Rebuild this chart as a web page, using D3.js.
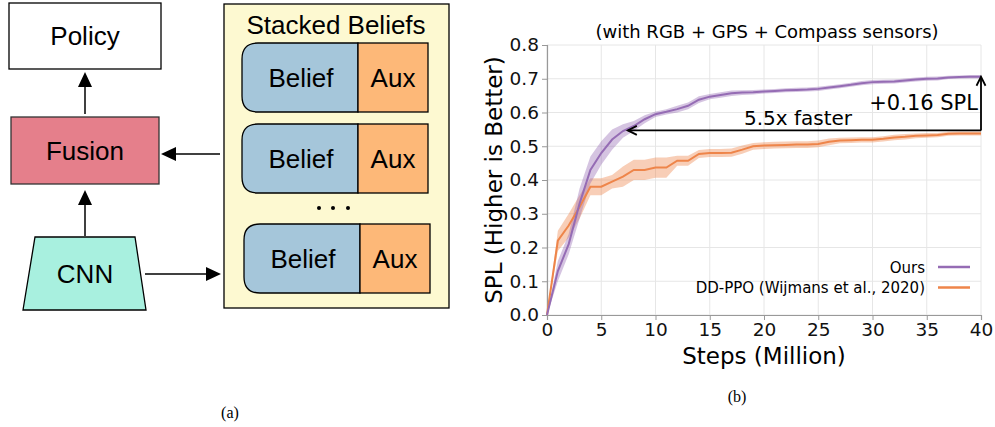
<!DOCTYPE html>
<html><head><meta charset="utf-8">
<script src="https://cdn.jsdelivr.net/npm/d3@7"></script>
<style>body{margin:0;background:#fff}svg{display:block}</style>
</head><body>
<svg id="c" width="995" height="427"></svg>
<script>
// ---- data ----
const steps = d3.range(0, 41);
const oursMean = [0,0.13,0.21,0.33,0.43,0.48,0.52,0.545,0.56,0.58,0.595,0.602,0.61,0.62,0.638,0.647,0.652,0.657,0.659,0.66,0.662,0.664,0.666,0.667,0.668,0.670,0.674,0.678,0.682,0.687,0.69,0.691,0.692,0.695,0.698,0.70,0.701,0.704,0.705,0.706,0.706];
const oursSpread = [0,0.03,0.03,0.045,0.04,0.035,0.03,0.02,0.015,0.012,0.008,0.008,0.01,0.01,0.01,0.008,0.008,0.008,0.007,0.007,0.006,0.006,0.006,0.006,0.006,0.006,0.006,0.006,0.006,0.006,0.006,0.006,0.006,0.006,0.006,0.006,0.006,0.005,0.005,0.005,0.005];
const ddppoMean = [0,0.22,0.265,0.32,0.38,0.38,0.395,0.41,0.43,0.43,0.437,0.437,0.457,0.457,0.477,0.48,0.48,0.481,0.49,0.50,0.502,0.503,0.504,0.505,0.505,0.507,0.513,0.517,0.518,0.519,0.519,0.522,0.526,0.528,0.531,0.532,0.533,0.537,0.538,0.538,0.538];
const ddppoSpread = [0,0.03,0.035,0.035,0.025,0.025,0.02,0.03,0.03,0.03,0.03,0.03,0.015,0.015,0.012,0.012,0.012,0.012,0.012,0.01,0.01,0.01,0.01,0.01,0.01,0.01,0.01,0.008,0.008,0.008,0.008,0.008,0.008,0.008,0.007,0.007,0.006,0.006,0.006,0.006,0.006];
const xTicks = [0,5,10,15,20,25,30,35,40];
const yTicks = [0,0.1,0.2,0.3,0.4,0.5,0.6,0.7,0.8];
const seriesNames = ["Ours","DD-PPO (Wijmans et al., 2020)"];
const seriesColors = ["#956CB4","#EE854A"];
const beliefRows = ["Belief","Belief","Belief"];

const svg = d3.select("#c");
const sans = "'Liberation Sans', Arial, sans-serif";
const dv = "'DejaVu Sans', sans-serif";

// ---- diagram (a) ----
const g = svg.append("g");
function arrowHead(x, y, dir) {
  let pts;
  if (dir === 'up') pts = [[x,y],[x-7,y+15],[x+7,y+15]];
  if (dir === 'left') pts = [[x,y],[x+15,y-7],[x+15,y+7]];
  if (dir === 'right') pts = [[x,y],[x-15,y-7],[x-15,y+7]];
  g.append("path").attr("d", d3.line()(pts) + "Z").attr("fill", "#000");
}
const fs = 26;
g.append("rect").attr("x",9).attr("y",3).attr("width",152).attr("height",66).attr("fill","#fff").attr("stroke","#000").attr("stroke-width",1.3);
g.append("text").attr("x",85).attr("y",45).attr("text-anchor","middle").attr("font-family",sans).attr("font-size",fs).text("Policy");
g.append("line").attr("x1",85).attr("x2",85).attr("y1",114).attr("y2",80).attr("stroke","#000").attr("stroke-width",1.5);
arrowHead(85,72,'up');
g.append("rect").attr("x",11).attr("y",117).attr("width",148).attr("height",67).attr("fill","#E57F8B").attr("stroke","#333").attr("stroke-width",1.3);
g.append("text").attr("x",85).attr("y",160).attr("text-anchor","middle").attr("font-family",sans).attr("font-size",fs).text("Fusion");
g.append("line").attr("x1",85).attr("x2",85).attr("y1",236).attr("y2",198).attr("stroke","#000").attr("stroke-width",1.5);
arrowHead(85,190,'up');
g.append("path").attr("d","M35,237 L135,237 L146,310 L23,310 Z").attr("fill","#A8F0DF").attr("stroke","#000").attr("stroke-width",1.3);
g.append("text").attr("x",85).attr("y",283).attr("text-anchor","middle").attr("font-family",sans).attr("font-size",fs).text("CNN");
g.append("line").attr("x1",220).attr("x2",170).attr("y1",154).attr("y2",154).attr("stroke","#000").attr("stroke-width",1.5);
arrowHead(161,154,'left');
g.append("line").attr("x1",145).attr("x2",212).attr("y1",274).attr("y2",274).attr("stroke","#000").attr("stroke-width",1.5);
arrowHead(221,274,'right');
g.append("rect").attr("x",224).attr("y",4).attr("width",225).attr("height",304).attr("fill","#FDF9D1").attr("stroke","#000").attr("stroke-width",1.3);
g.append("text").attr("x",336).attr("y",34).attr("text-anchor","middle").attr("font-family",sans).attr("font-size",fs).text("Stacked Beliefs");
const rowY = [43,124,224];
const rowX = [242,242,244];
beliefRows.forEach((lab,i) => {
  const x0 = rowX[i], y0 = rowY[i], w = 116, h = 69, r = 16, aw = 70;
  g.append("path").attr("d",`M${x0+w},${y0} L${x0+r},${y0} Q${x0},${y0} ${x0},${y0+r} L${x0},${y0+h-r} Q${x0},${y0+h} ${x0+r},${y0+h} L${x0+w},${y0+h} Z`)
    .attr("fill","#A5C6DA").attr("stroke","#000").attr("stroke-width",1.3);
  g.append("rect").attr("x",x0+w).attr("y",y0).attr("width",aw).attr("height",h).attr("fill","#FDB878").attr("stroke","#000").attr("stroke-width",1.3);
  g.append("text").attr("x",x0+w/2+1).attr("y",y0+h/2+9).attr("text-anchor","middle").attr("font-family",sans).attr("font-size",fs).text(lab);
  g.append("text").attr("x",x0+w+aw/2).attr("y",y0+h/2+9).attr("text-anchor","middle").attr("font-family",sans).attr("font-size",fs).text("Aux");
});
[319,333,348].forEach(cx => g.append("circle").attr("cx",cx).attr("cy",208).attr("r",2).attr("fill","#000"));

// captions
svg.append("text").attr("x",230).attr("y",418).attr("text-anchor","middle").attr("font-family","'Liberation Serif', serif").attr("font-size",16).text("(a)");
svg.append("text").attr("x",737).attr("y",402).attr("text-anchor","middle").attr("font-family","'Liberation Serif', serif").attr("font-size",16).text("(b)");

// ---- chart (b) ----
const x = d3.scaleLinear().domain([0,40]).range([547,981]);
const y = d3.scaleLinear().domain([0,0.8]).range([315,45]);
const p = svg.append("g");
p.selectAll(".gx").data(xTicks).join("line").attr("x1",d=>x(d)).attr("x2",d=>x(d)).attr("y1",y(0)).attr("y2",y(0.8)).attr("stroke","#e6e6e6").attr("stroke-width",1);
p.selectAll(".gy").data(yTicks).join("line").attr("x1",x(0)).attr("x2",x(40)).attr("y1",d=>y(d)).attr("y2",d=>y(d)).attr("stroke","#e6e6e6").attr("stroke-width",1);

const ax = p.append("g").attr("transform",`translate(0,${y(0)})`).call(d3.axisBottom(x).tickValues(xTicks).tickFormat(d3.format("d")).tickSize(5).tickPadding(3));
const ay = p.append("g").attr("transform",`translate(${x(0)},0)`).call(d3.axisLeft(y).tickValues(yTicks).tickFormat(d3.format(".1f")).tickSize(5).tickPadding(3));
[ax,ay].forEach(a => {
  a.selectAll("text").attr("font-family",dv).attr("font-size",18.5).attr("fill","#111");
  a.selectAll("line").attr("stroke","#999");
  a.select(".domain").attr("stroke","#999").attr("stroke-width",1.2);
});

const series = [
  {mean: oursMean, spread: oursSpread, color: seriesColors[0]},
  {mean: ddppoMean, spread: ddppoSpread, color: seriesColors[1]}
];
const area = d3.area().x((d,i)=>x(steps[i])).y0(d=>y(d[0]-d[1])).y1(d=>y(d[0]+d[1]));
const line = d3.line().x((d,i)=>x(steps[i])).y(d=>y(d));
series.slice().reverse().forEach(s => {
  p.append("path").datum(s.mean.map((m,i)=>[m,s.spread[i]])).attr("d",area).attr("fill",s.color).attr("opacity",0.4);
});
series.slice().reverse().forEach(s => {
  p.append("path").datum(s.mean).attr("d",line).attr("fill","none").attr("stroke",s.color).attr("stroke-width",2);
});

// annotations
const ann = p.append("g").attr("stroke","#000").attr("stroke-width",1.8).attr("fill","none");
const yArrow = 0.547;
ann.append("line").attr("x1",x(40)).attr("x2",x(7.45)).attr("y1",y(yArrow)).attr("y2",y(yArrow));
ann.append("path").attr("d",`M${x(7.45)+9},${y(yArrow)-4.5} L${x(7.45)},${y(yArrow)} L${x(7.45)+9},${y(yArrow)+4.5}`);
ann.append("line").attr("x1",x(40)).attr("x2",x(40)).attr("y1",y(yArrow)).attr("y2",y(0.706));
ann.append("path").attr("d",`M${x(40)-4.5},${y(0.706)+9} L${x(40)},${y(0.706)} L${x(40)+4.5},${y(0.706)+9}`);
p.append("text").attr("x",798).attr("y",125).attr("text-anchor","middle").attr("font-family",dv).attr("font-size",20).text("5.5x faster");
p.append("text").attr("x",978).attr("y",110).attr("text-anchor","end").attr("font-family",dv).attr("font-size",21).text("+0.16 SPL");

// title & labels
p.append("text").attr("x",767).attr("y",38).attr("text-anchor","middle").attr("font-family",dv).attr("font-size",18).text("(with RGB + GPS + Compass sensors)");
p.append("text").attr("x",764).attr("y",364).attr("text-anchor","middle").attr("font-family",dv).attr("font-size",23).text("Steps (Million)");
p.append("text").attr("transform",`translate(502,${y(0.4)}) rotate(-90)`).attr("text-anchor","middle").attr("font-family",dv).attr("font-size",23).text("SPL (Higher is Better)");

// legend
seriesNames.forEach((n,i) => {
  const ly = 267 + i*20.5;
  p.append("text").attr("x",925).attr("y",ly+5.5).attr("text-anchor","end").attr("font-family",dv).attr("font-size",15).text(n);
  p.append("line").attr("x1",938).attr("x2",970).attr("y1",ly).attr("y2",ly).attr("stroke",seriesColors[i]).attr("stroke-width",2.5);
});
</script>
</body></html>
